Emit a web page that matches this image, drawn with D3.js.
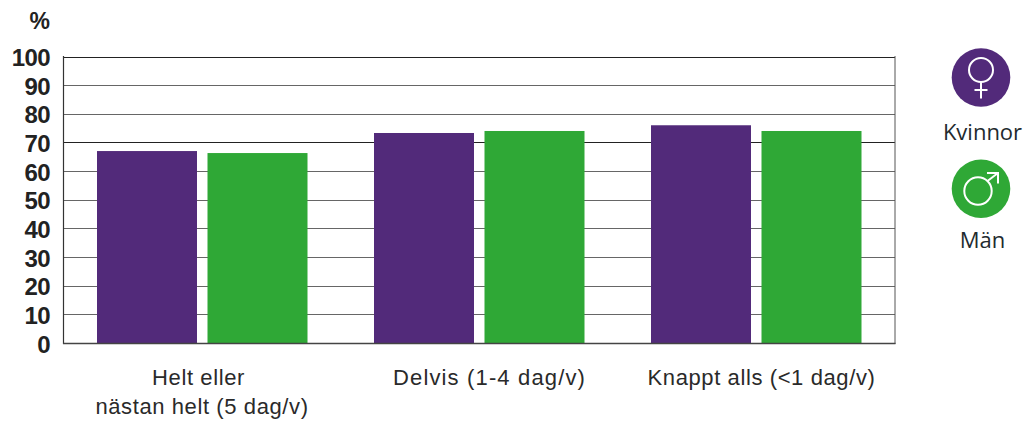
<!DOCTYPE html>
<html><head><meta charset="utf-8">
<script src="https://cdn.jsdelivr.net/npm/d3@7/dist/d3.min.js"></script>
<style>html,body{margin:0;padding:0;background:#fff}svg{display:block}</style>
</head><body><svg id="c" width="1027" height="421"></svg>
<script>
const categories=[["Helt eller","nästan helt (5 dag/v)"],["Delvis (1-4 dag/v)"],["Knappt alls (<1 dag/v)"]];
const women=[67,73.3,76];
const men=[66.3,74,74];
const yTicks=[0,10,20,30,40,50,60,70,80,90,100];
const seriesNames=["Kvinnor","Män"];
const colors=["#522a7a","#2fa836"];
const svg=d3.select("#c");
const font="'Liberation Sans',Arial,sans-serif";
const ink="#222a2e";
const y=d3.scaleLinear().domain([0,100]).range([343,56.5]);
const x=d3.scaleBand().domain(d3.range(3)).range([63.75,894.75]);
svg.append("g").selectAll("line").data(yTicks.slice(1)).join("line")
 .attr("x1",63.5).attr("x2",895).attr("y1",d=>Math.round(y(d))+.5).attr("y2",d=>Math.round(y(d))+.5)
 .attr("stroke",d=>d==100||d==70?"#222":"#666").attr("stroke-width",d=>d==100||d==70?1:1.2);
svg.append("line").attr("x1",63.5).attr("x2",63.5).attr("y1",56).attr("y2",344).attr("stroke","#333").attr("stroke-width",1.2);
svg.append("line").attr("x1",895).attr("x2",895).attr("y1",56).attr("y2",344).attr("stroke","#555").attr("stroke-width",1);
const bw=100,gap=10.5;
const g=svg.append("g").selectAll("g").data(d3.range(3)).join("g");
const center=i=>x(i)+x.bandwidth()/2;
g.append("rect").attr("x",i=>center(i)-gap/2-bw).attr("width",bw).attr("y",i=>y(women[i])).attr("height",i=>y(0)-y(women[i])).attr("fill",colors[0]);
g.append("rect").attr("x",i=>center(i)+gap/2).attr("width",bw).attr("y",i=>y(men[i])).attr("height",i=>y(0)-y(men[i])).attr("fill",colors[1]);
svg.append("line").attr("x1",63).attr("x2",895.5).attr("y1",343.5).attr("y2",343.5).attr("stroke","#444").attr("stroke-width",1.4);
svg.append("g").selectAll("text").data(yTicks).join("text").attr("x",50).attr("y",d=>y(d)+9.5)
 .attr("text-anchor","end").attr("font-family",font).attr("font-weight",700).attr("font-size",24).attr("letter-spacing",-.6).attr("fill","#222").text(d=>d);
svg.append("text").attr("x",50).attr("y",29).attr("text-anchor","end").attr("font-family",font).attr("font-weight",700).attr("font-size",23).attr("fill","#222").text("%");
const labelX=[[198.5,202],[489.5],[761.5]];
const labelSpacing=[[.6,.6],[1.15],[.6]];
categories.forEach((c,i)=>{c.forEach((t,j)=>{
 svg.append("text").attr("x",labelX[i][j]).attr("y",385+j*29).attr("text-anchor","middle").attr("font-family",font).attr("font-size",22).attr("letter-spacing",labelSpacing[i][j]).attr("fill","#2a2a2a").text(t);
});});
const lx=981;
svg.append("circle").attr("cx",lx).attr("cy",77.5).attr("r",29.3).attr("fill",colors[0]);
svg.append("circle").attr("cx",lx).attr("cy",70).attr("r",12).attr("fill","none").attr("stroke","#fff").attr("stroke-width",2);
svg.append("path").attr("d",`M${lx} 82V98.5M${lx-6.5} 90H${lx+6.5}`).attr("stroke","#fff").attr("stroke-width",2).attr("fill","none");
svg.append("circle").attr("cx",lx).attr("cy",188.7).attr("r",29.3).attr("fill",colors[1]);
svg.append("circle").attr("cx",lx-3).attr("cy",191).attr("r",13.7).attr("fill","none").attr("stroke","#fff").attr("stroke-width",2);
svg.append("path").attr("d",`M${lx+6.5} 181L${lx+17} 173M${lx+6} 173H${lx+17}V183.5`).attr("stroke","#fff").attr("stroke-width",2).attr("fill","none");
svg.append("text").attr("x",982.5).attr("y",140).attr("text-anchor","middle").attr("font-family","'Open Sans',sans-serif").attr("font-size",22).attr("fill",ink).text(seriesNames[0]);
svg.append("text").attr("x",982.5).attr("y",248).attr("text-anchor","middle").attr("font-family","'Open Sans',sans-serif").attr("font-size",22).attr("fill",ink).text(seriesNames[1]);
</script></body></html>
